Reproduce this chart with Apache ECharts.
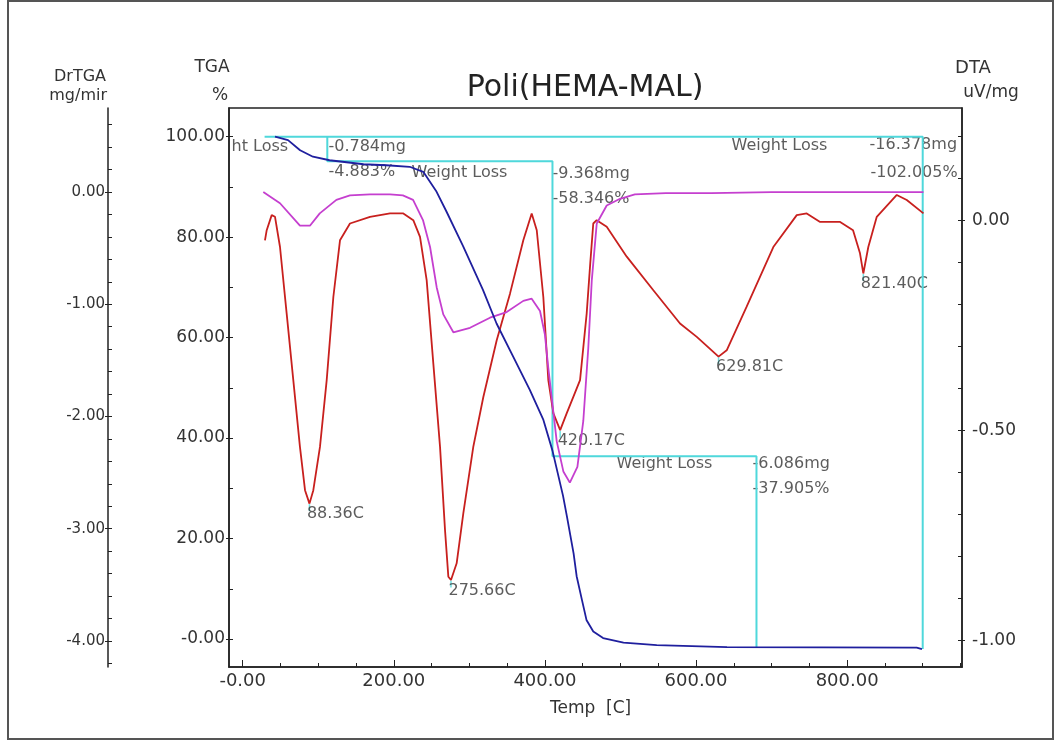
<!DOCTYPE html>
<html>
<head>
<meta charset="utf-8">
<title>Poli(HEMA-MAL)</title>
<script src="https://cdn.jsdelivr.net/npm/echarts@6/dist/echarts.min.js"></script>
<style>
html, body { margin: 0; padding: 0; background: #fff; }
#chart { width: 1062px; height: 742px; }
</style>
</head>
<body>
<div id="chart"></div>
<script>
// TGA curve (%), blue
const tgaTemp = [42.8, 60, 76, 93, 115, 160, 190, 221, 239, 256, 270, 292, 318, 336, 358, 380, 398, 410, 424, 429, 438, 442, 449, 455, 464, 477, 504, 548, 641, 892, 899];
const tgaValue = [100.0, 99.3, 97.3, 96.0, 95.3, 94.5, 94.3, 94.0, 93.0, 89.2, 85.0, 78.1, 69.5, 62.8, 56.2, 49.6, 43.6, 37.5, 28.5, 24.5, 17.0, 12.5, 7.8, 3.8, 1.5, 0.2, -0.7, -1.2, -1.6, -1.7, -2.0];

// DrTGA curve (mg/min), magenta
const drtgaTemp = [27.3, 49.4, 75.8, 89, 102, 124, 142, 168.5, 195, 212, 225.5, 238.6, 248, 256.8, 265.5, 278.8, 300.9, 327.3, 349.4, 371.4, 382.5, 393.5, 400, 404.5, 415.6, 424.4, 433, 443, 450.8, 457.4, 462, 468.6, 481.8, 499.4, 519, 560, 620, 700, 760, 820, 901];
const drtgaValue = [0.0, -0.10, -0.30, -0.30, -0.19, -0.07, -0.03, -0.02, -0.02, -0.03, -0.07, -0.25, -0.49, -0.85, -1.09, -1.25, -1.21, -1.12, -1.07, -0.97, -0.95, -1.06, -1.27, -1.57, -2.22, -2.49, -2.59, -2.45, -2.04, -1.39, -0.79, -0.28, -0.12, -0.06, -0.02, -0.01, -0.01, 0.0, 0.0, 0.0, 0.0];

// DTA curve (uV/mg), red
const dtaTemp = [29.5, 31.8, 38.4, 42.8, 49.4, 58.2, 67, 75.8, 82.5, 88.4, 93.5, 102.3, 111.2, 120, 128.8, 142, 168.5, 195, 212.6, 225.8, 234.7, 243.5, 252.3, 261.2, 267.8, 272.2, 275.7, 283.2, 292, 305.2, 318.5, 336.2, 353.8, 371.4, 382.5, 389.2, 397.9, 404.5, 411.2, 420.2, 428.8, 440, 446.5, 455.3, 460, 464, 468.5, 481.8, 508.3, 543.5, 578.8, 601, 629.8, 640.6, 667, 702.3, 733.3, 746.5, 763.7, 790.2, 807.8, 817, 821.4, 828, 839.2, 865.7, 878.9, 901];
const dtaValue = [-0.048, -0.024, 0.012, 0.008, -0.064, -0.222, -0.381, -0.54, -0.643, -0.675, -0.643, -0.54, -0.381, -0.183, -0.048, -0.008, 0.008, 0.016, 0.016, 0.0, -0.04, -0.143, -0.341, -0.54, -0.738, -0.849, -0.857, -0.817, -0.698, -0.54, -0.421, -0.286, -0.175, -0.048, 0.016, -0.024, -0.183, -0.381, -0.46, -0.5, -0.46, -0.41, -0.381, -0.222, -0.103, -0.008, 0.0, -0.016, -0.087, -0.167, -0.246, -0.278, -0.325, -0.31, -0.206, -0.064, 0.012, 0.016, -0.004, -0.004, -0.024, -0.079, -0.127, -0.064, 0.008, 0.06, 0.048, 0.016];

// weight loss step lines (TGA %)
const totalLossTemp = [29, 900, 900];
const totalLossValue = [100, 100, -2.0];
const stepLossTemp = [112, 112, 410, 410, 680, 680];
const stepLossValue = [100, 95.1, 95.1, 36.4, 36.4, -1.6];

// weight loss texts (placed in TGA coordinates)
const lossText = ['ht Loss', '-0.784mg', '-4.883%', 'Weight Loss', '-9.368mg', '-58.346%', 'Weight Loss', '-16.378mg', '-102.005%', 'Weight Loss', '-6.086mg', '-37.905%'];
const lossTextTemp = [-14, 114.2, 114.2, 224.1, 410.7, 410.7, 647.6, 830.3, 831.6, 495.4, 675.5, 675.5];
const lossTextValue = [97.9, 97.8, 92.8, 92.7, 92.5, 87.6, 98.0, 98.2, 92.7, 34.8, 34.8, 29.7];

// DTA peaks
const peakTemp = [88.36, 275.66, 420.17, 629.81, 821.40];
const peakDta = [-0.675, -0.857, -0.5, -0.325, -0.127];
const peakText = ['88.36C', '275.66C', '420.17C', '629.81C', '821.40C'];

// axes ticks and labels
const xTicks = [0, 200, 400, 600, 800];
const xTickLabels = ['-0.00', '200.00', '400.00', '600.00', '800.00'];
const xMinorTicks = [0, 50, 100, 150, 200, 250, 300, 350, 400, 450, 500, 550, 600, 650, 700, 750, 800, 850, 900, 950];
const tgaTicks = [0, 20, 40, 60, 80, 100];
const tgaTickLabels = ['-0.00', '20.00', '40.00', '60.00', '80.00', '100.00'];
const tgaMinorTicks = [0, 10, 20, 30, 40, 50, 60, 70, 80, 90, 100];
const drtgaTicks = [0, -1, -2, -3, -4];
const drtgaTickLabels = ['0.00', '-1.00', '-2.00', '-3.00', '-4.00'];
const drtgaMinorTicks = [0.6, 0.4, 0.2, 0, -0.2, -0.4, -0.6, -0.8, -1, -1.2, -1.4, -1.6, -1.8, -2, -2.2, -2.4, -2.6, -2.8, -3, -3.2, -3.4, -3.6, -3.8, -4, -4.2];
const dtaTicks = [0, -0.5, -1];
const dtaTickLabels = ['0.00', '-0.50', '-1.00'];
const dtaMinorTicks = [0.2, 0.1, 0, -0.1, -0.2, -0.3, -0.4, -0.5, -0.6, -0.7, -0.8, -0.9, -1];

const FONT = 'DejaVu Sans';
const TXT = '#333';
const AXIS = '#222';
const CYAN = '#4fd8db';

const pairs = (xs, ys) => xs.map((x, i) => [x, ys[i]]);
const labelOf = (ticks, labels) => (v) => {
	let i = ticks.findIndex((t) => Math.abs(t - v) < 1e-6);
	return i < 0 ? '' : labels[i];
};

function yAxisMain(pos, offset, min, max, ticks, labels, minor, size, margin) {
	return {
		type: 'value', position: pos, offset: offset, min: min, max: max,
		axisLine: { show: true, onZero: false, lineStyle: { color: AXIS, width: 1.5 } },
		axisTick: { show: true, inside: true, length: 4, customValues: minor, lineStyle: { color: AXIS } },
		axisLabel: { show: true, customValues: ticks, formatter: labelOf(ticks, labels), margin: margin, fontSize: size, fontFamily: FONT, color: TXT },
		splitLine: { show: false },
	};
}
function yAxisMajor(pos, offset, min, max, ticks) {
	return {
		type: 'value', position: pos, offset: offset, min: min, max: max,
		axisLine: { show: false, onZero: false },
		axisTick: { show: true, inside: false, length: 3, customValues: ticks, lineStyle: { color: AXIS } },
		axisLabel: { show: false },
		splitLine: { show: false },
	};
}

let chart = echarts.init(document.getElementById('chart'));

let option = {
	animation: false,
	backgroundColor: '#fff',
	grid: {
		left: 229, right: 100, top: 108, bottom: 75,
		containLabel: false, outerBoundsMode: 'none',
		show: true, borderColor: AXIS, borderWidth: 1.5, backgroundColor: 'transparent',
	},
	xAxis: [
		{
			type: 'value', position: 'bottom', min: -18.1, max: 952,
			axisLine: { show: true, onZero: false, lineStyle: { color: AXIS, width: 1.5 } },
			axisTick: { show: true, inside: true, length: 4, customValues: xMinorTicks, lineStyle: { color: AXIS } },
			axisLabel: { show: true, customValues: xTicks, formatter: labelOf(xTicks, xTickLabels), margin: 5, fontSize: 18, fontFamily: FONT, color: TXT },
			splitLine: { show: false },
		},
		{
			type: 'value', position: 'bottom', min: -18.1, max: 952,
			axisLine: { show: false, onZero: false },
			axisTick: { show: true, inside: true, length: 7, customValues: xTicks, lineStyle: { color: AXIS } },
			axisLabel: { show: false },
			splitLine: { show: false },
		},
	],
	yAxis: [
		yAxisMain('left', 0, -5.57, 105.7, tgaTicks, tgaTickLabels, tgaMinorTicks, 17, 4),
		yAxisMain('left', 121, -4.233, 0.749, drtgaTicks, drtgaTickLabels, drtgaMinorTicks, 15, 3),
		yAxisMain('right', 0, -1.064, 0.267, dtaTicks, dtaTickLabels, dtaMinorTicks, 17, 10),
		yAxisMajor('left', 0, -5.57, 105.7, tgaTicks),
		yAxisMajor('left', 121, -4.233, 0.749, drtgaTicks),
		yAxisMajor('right', 0, -1.064, 0.267, dtaTicks),
	],
	graphic: [
		{ type: 'rect', shape: { x: 8, y: 1, width: 1045, height: 738 }, style: { fill: null, stroke: '#555', lineWidth: 2 }, silent: true },
		{ type: 'text', x: 585, y: 88, style: { text: 'Poli(HEMA-MAL)', font: '30px "DejaVu Sans"', fill: '#222', textAlign: 'center', textVerticalAlign: 'middle' } },
		{ type: 'text', x: 106, y: 77, style: { text: 'DrTGA', font: '16px "DejaVu Sans"', fill: TXT, textAlign: 'right', textVerticalAlign: 'middle' } },
		{ type: 'text', x: 107, y: 96, style: { text: 'mg/mir', font: '16px "DejaVu Sans"', fill: TXT, textAlign: 'right', textVerticalAlign: 'middle' } },
		{ type: 'text', x: 212, y: 68, style: { text: 'TGA', font: '17px "DejaVu Sans"', fill: TXT, textAlign: 'center', textVerticalAlign: 'middle' } },
		{ type: 'text', x: 220, y: 96, style: { text: '%', font: '17px "DejaVu Sans"', fill: TXT, textAlign: 'center', textVerticalAlign: 'middle' } },
		{ type: 'text', x: 973, y: 68, style: { text: 'DTA', font: '18px "DejaVu Sans"', fill: TXT, textAlign: 'center', textVerticalAlign: 'middle' } },
		{ type: 'text', x: 991, y: 93, style: { text: 'uV/mg', font: '17px "DejaVu Sans"', fill: TXT, textAlign: 'center', textVerticalAlign: 'middle' } },
		{ type: 'text', x: 550, y: 709, style: { text: 'Temp  [C]', font: '17px "DejaVu Sans"', fill: TXT, textAlign: 'left', textVerticalAlign: 'middle' } },
	],
	series: [
		{
			name: 'Total loss', type: 'line', xAxisIndex: 0, yAxisIndex: 0, symbol: 'none', silent: true,
			lineStyle: { color: CYAN, width: 2 }, data: pairs(totalLossTemp, totalLossValue),
		},
		{
			name: 'Step loss', type: 'line', xAxisIndex: 0, yAxisIndex: 0, symbol: 'none', silent: true,
			lineStyle: { color: CYAN, width: 2 }, data: pairs(stepLossTemp, stepLossValue),
		},
		{
			name: 'DTA', type: 'line', xAxisIndex: 0, yAxisIndex: 2, symbol: 'none',
			lineStyle: { color: '#c8201e', width: 1.8 }, data: pairs(dtaTemp, dtaValue),
		},
		{
			name: 'DrTGA', type: 'line', xAxisIndex: 0, yAxisIndex: 1, symbol: 'none',
			lineStyle: { color: '#c53fcf', width: 1.8 }, data: pairs(drtgaTemp, drtgaValue),
		},
		{
			name: 'TGA', type: 'line', xAxisIndex: 0, yAxisIndex: 0, symbol: 'none',
			lineStyle: { color: '#1f1f9e', width: 1.8 }, data: pairs(tgaTemp, tgaValue),
		},
		{
			name: 'Loss text', type: 'scatter', xAxisIndex: 0, yAxisIndex: 0, silent: true,
			symbol: 'circle', symbolSize: 1, itemStyle: { color: 'transparent' },
			data: pairs(lossTextTemp, lossTextValue),
			label: {
				show: true, position: [0, 0], align: 'left', verticalAlign: 'middle',
				formatter: (p) => lossText[p.dataIndex], fontSize: 16, fontFamily: FONT, color: TXT,
			},
		},
		{
			name: 'Peak marks', type: 'scatter', xAxisIndex: 0, yAxisIndex: 2, silent: true,
			symbol: 'rect', symbolSize: [1.5, 7], symbolOffset: [0, 4], itemStyle: { color: CYAN },
			data: pairs(peakTemp, peakDta),
		},
		{
			name: 'Peak text', type: 'scatter', xAxisIndex: 0, yAxisIndex: 2, silent: true,
			symbol: 'circle', symbolSize: 1, itemStyle: { color: 'transparent' },
			data: pairs(peakTemp, peakDta),
			label: {
				show: true, position: [0, 0], offset: [-2, 11], align: 'left', verticalAlign: 'middle',
				formatter: (p) => peakText[p.dataIndex], fontSize: 16, fontFamily: FONT, color: TXT,
			},
		},
	],
};

chart.setOption(option);
</script>
</body>
</html>
